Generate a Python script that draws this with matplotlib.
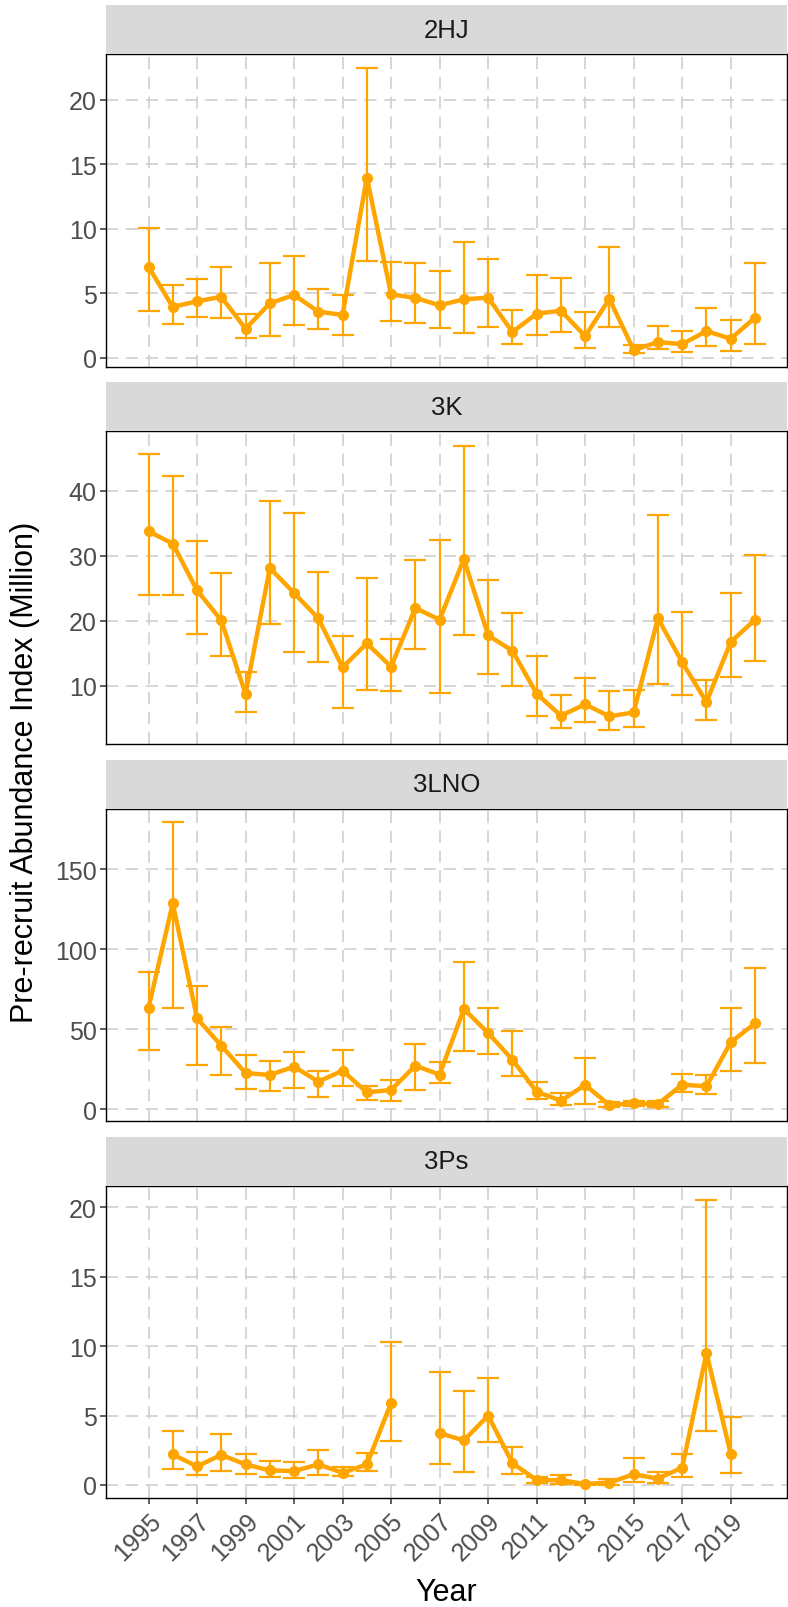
import numpy as np
import matplotlib.pyplot as plt
import matplotlib as mpl

# font setup (ggplot default look, Arial-like)
mpl.rcParams['font.family'] = ['Liberation Sans', 'DejaVu Sans']

nan = np.nan

# survey years
years = list(range(1995, 2021))

# pre-recruit abundance index (million): estimate, lower and upper interval
hj_val = [7.05, 3.94, 4.38, 4.72, 2.25, 4.22, 4.87, 3.58, 3.32, 13.96, 4.92, 4.64, 4.07,
          4.53, 4.66, 2.0, 3.42, 3.65, 1.68, 4.56, 0.6, 1.22, 1.06, 2.07, 1.48, 3.11]
hj_low = [3.6, 2.62, 3.16, 3.08, 1.55, 1.66, 2.56, 2.25, 1.76, 7.46, 2.88, 2.67, 2.31,
          1.92, 2.38, 1.04, 1.74, 2.0, 0.78, 2.36, 0.39, 0.65, 0.47, 0.88, 0.52, 1.04]
hj_up = [10.05, 5.67, 6.09, 7.0, 3.37, 7.33, 7.85, 5.31, 4.84, 22.46, 7.44, 7.31, 6.74,
         8.96, 7.67, 3.68, 6.45, 6.17, 3.52, 8.58, 1.01, 2.44, 2.07, 3.83, 2.9, 7.38]

k_val = [33.74, 31.85, 24.67, 20.05, 8.72, 28.1, 24.26, 20.36, 12.82, 16.51, 12.92, 21.95, 20.15,
         29.49, 17.74, 15.38, 8.77, 5.38, 7.13, 5.28, 5.9, 20.36, 13.59, 7.49, 16.72, 20.15]
k_low = [23.9, 23.9, 17.95, 14.6, 5.95, 19.5, 15.18, 13.64, 6.51, 9.38, 9.23, 15.59, 8.87,
         17.74, 11.85, 10.0, 5.38, 3.44, 4.41, 3.13, 3.69, 10.3, 8.56, 4.72, 11.38, 13.74]
k_up = [45.7, 42.2, 32.26, 27.28, 12.1, 38.46, 36.56, 27.49, 17.6, 26.56, 17.23, 29.33, 32.46,
        46.92, 26.26, 21.18, 14.51, 8.51, 11.13, 9.13, 9.38, 36.2, 21.28, 10.87, 24.26, 30.15]

lno_val = [63.3, 128.5, 56.7, 39.6, 22.5, 21.25, 26.5, 17.1, 24.0, 10.4, 11.9, 27.1, 21.5,
           62.5, 47.5, 30.8, 10.8, 5.2, 15.0, 2.5, 3.5, 3.1, 15.2, 14.2, 41.7, 53.5]
lno_low = [37.1, 62.9, 27.5, 21.0, 12.5, 11.25, 13.3, 7.7, 14.2, 5.8, 5.2, 12.1, 16.0,
           36.5, 34.2, 20.6, 6.25, 2.5, 3.1, 1.5, 2.1, 1.5, 10.8, 9.2, 23.5, 29.0]
lno_up = [85.8, 179.2, 76.7, 51.5, 33.75, 30.0, 35.4, 23.75, 36.7, 14.6, 18.1, 40.6, 29.2,
          91.7, 63.1, 48.5, 17.1, 9.8, 31.7, 4.2, 5.0, 5.0, 21.9, 21.25, 62.9, 88.3]

ps_val = [nan, 2.2, 1.34, 2.17, 1.48, 1.05, 1.0, 1.48, 0.88, 1.48, 5.91, nan, 3.73,
          3.21, 5.0, 1.57, 0.36, 0.34, 0.07, 0.17, 0.77, 0.46, 1.25, 9.5, 2.25, nan]
ps_low = [nan, 1.14, 0.69, 1.0, 0.81, 0.57, 0.52, 0.74, 0.64, 0.98, 3.18, nan, 1.48,
          0.95, 3.09, 0.81, 0.17, 0.1, 0.0, 0.02, 0.22, 0.17, 0.58, 3.9, 0.86, nan]
ps_up = [nan, 3.88, 2.37, 3.66, 2.2, 1.72, 1.67, 2.49, 1.29, 2.32, 10.32, nan, 8.12,
         6.75, 7.7, 2.73, 0.58, 0.72, 0.17, 0.41, 1.92, 0.96, 2.21, 20.5, 4.91, nan]

regions = ['2HJ', '3K', '3LNO', '3Ps']
values = [hj_val, k_val, lno_val, ps_val]
lowers = [hj_low, k_low, lno_low, ps_low]
uppers = [hj_up, k_up, lno_up, ps_up]

# y axis per facet (free scales)
ylims = [(-0.67, 23.5), (1.03, 49.18), (-7.3, 187.5), (-0.96, 21.56)]
yticks = [[0, 5, 10, 15, 20], [10, 20, 30, 40], [0, 50, 100, 150], [0, 5, 10, 15, 20]]

W, H = 788, 1608
fig = plt.figure(figsize=(W / 100, H / 100), dpi=100)

# panel rows in pixels: (strip top, panel top, panel bottom)
rows = [(6, 55.3, 367.5), (383.3, 432, 745), (760.7, 810, 1121.7), (1138.3, 1186.7, 1499.3)]
left_px, right_px = 106.3, 786.5

orange = '#FFA500'
grid_col = '#CCCCCC'

for i in range(4):
    s_top, p_top, p_bot = rows[i]
    ax = fig.add_axes([left_px / W, 1 - p_bot / H, (right_px - left_px) / W, (p_bot - p_top) / H])
    st = fig.add_axes([left_px / W, 1 - p_top / H, (right_px - left_px) / W, (p_top - s_top) / H])

    # strip
    st.set_facecolor('#D9D9D9')
    st.set_xticks([])
    st.set_yticks([])
    for sp in st.spines.values():
        sp.set_visible(False)
    st.text(0.5, 0.5, regions[i], ha='center', va='center', fontsize=18.5, color='#1A1A1A',
            transform=st.transAxes)

    v = np.array(values[i], dtype=float)
    lo = np.array(lowers[i], dtype=float)
    up = np.array(uppers[i], dtype=float)

    ax.errorbar(years, v, yerr=[v - lo, up - v], fmt='none', ecolor=orange,
                elinewidth=1.6, capsize=8, capthick=1.6, zorder=3)
    ax.plot(years, v, '-o', color=orange, lw=3.2, markersize=7, zorder=4)

    ax.set_xlim(1993.26, 2021.3)
    ax.set_ylim(*ylims[i])
    ax.set_yticks(yticks[i])
    ax.set_xticks(range(1995, 2020, 2))
    ax.grid(True, linestyle=(0, (8, 5)), color=grid_col, lw=1.1, zorder=0)
    ax.set_axisbelow(True)
    for sp in ax.spines.values():
        sp.set_color('black')
        sp.set_linewidth(1.0)
    ax.tick_params(axis='y', labelsize=18, labelcolor='#4D4D4D', color='#333333',
                   length=4, width=1.1, pad=3)
    if i < 3:
        ax.tick_params(axis='x', length=0, labelbottom=False)
    else:
        ax.tick_params(axis='x', labelsize=18, labelcolor='#4D4D4D', color='#333333',
                       length=4, width=1.1, pad=3)
        for lab in ax.get_xticklabels():
            lab.set_rotation(45)
            lab.set_ha('right')
            lab.set_va('top')
            lab.set_rotation_mode('anchor')

# axis titles
fig.text(25 / W, 1 - 772 / H, 'Pre-recruit Abundance Index (Million)', rotation=90,
         ha='center', va='center', fontsize=22, color='black')
fig.text((left_px + right_px) / 2 / W, 1 - 1601 / H, 'Year', ha='center', va='baseline',
         fontsize=22, color='black')

plt.savefig('out.png', dpi=100)
plt.close()
